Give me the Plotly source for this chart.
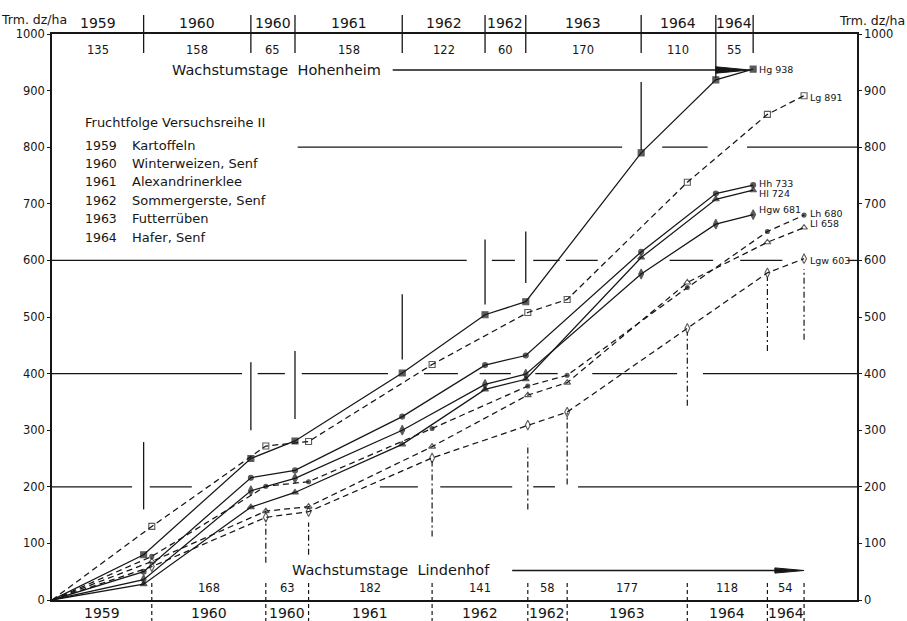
import numpy as np
import plotly.graph_objects as go

# ---------------------------------------------------------------------------
# Growing seasons (Wachstumstage) per crop, Hohenheim and Lindenhof
season_years = ["1959", "1960", "1960", "1961", "1962", "1962", "1963", "1964", "1964"]
days_hohenheim = [135, 158, 65, 158, 122, 60, 170, 110, 55]
days_lindenhof = [147, 168, 63, 182, 141, 58, 177, 118, 54]
lindenhof_days_printed = [False, True, True, True, True, True, True, True, True]

# Crop rotation (Fruchtfolge Versuchsreihe II)
rotation_years = ["1959", "1960", "1961", "1962", "1963", "1964"]
rotation_crops = ["Kartoffeln", "Winterweizen, Senf", "Alexandrinerklee",
                  "Sommergerste, Senf", "Futterrüben", "Hafer, Senf"]

# Cumulative dry matter yield (Trm. dz/ha) at the end of each season
hg = [0, 80, 250, 281, 401, 504, 527, 790, 919, 938]
hh = [0, 50, 216, 229, 324, 415, 432, 615, 718, 733]
hl = [0, 28, 164, 190, 275, 372, 390, 605, 708, 724]
hgw = [0, 36, 193, 215, 300, 381, 399, 576, 664, 681]
lg = [0, 130, 272, 280, 416, 508, 531, 738, 858, 891]
lh = [0, 77, 201, 209, 303, 378, 397, 552, 651, 680]
ll = [0, 68, 157, 165, 271, 362, 384, 561, 632, 658]
lgw = [0, 59, 146, 156, 251, 309, 332, 480, 578, 603]

# y axis ticks
y_ticks = [0, 100, 200, 300, 400, 500, 600, 700, 800, 900, 1000]

# ---------------------------------------------------------------------------
INK = "#161616"
FONT = "DejaVu Sans"
X_MAX = 1186          # days shown on the time axis
PLOT_PX = 566         # plot height in pixels (for paper offsets)
PLOT_W = 805          # plot width in pixels

cum_h = np.concatenate([[0], np.cumsum(days_hohenheim)])
cum_l = np.concatenate([[0], np.cumsum(days_lindenhof)])


def above_top(px):
    """paper y for a position px pixels above the top of the plot area"""
    return 1 + px / PLOT_PX


def below_bottom(px):
    """paper y for a position px pixels below the bottom of the plot area"""
    return -px / PLOT_PX


def label(x, y, text, size, xref="x", yref="paper", xanchor="center", **kw):
    return dict(x=x, y=y, xref=xref, yref=yref, text=text, showarrow=False,
                xanchor=xanchor, yanchor="middle",
                font=dict(size=size, family=FONT, color=INK), **kw)


fig = go.Figure()

series = [
    # name, x, y, symbol, size, dash, label yshift
    ("Hg", cum_h, hg, "square", 6, "solid", 0),
    ("Hh", cum_h, hh, "circle", 5, "solid", 2),
    ("Hl", cum_h, hl, "triangle-up", 6, "solid", -3),
    ("Hgw", cum_h, hgw, "diamond-tall", 7, "solid", 5),
    ("Lg", cum_l, lg, "square-open", 6, "6px,4px", -2),
    ("Lh", cum_l, lh, "circle", 4, "6px,4px", 2),
    ("Ll", cum_l, ll, "triangle-up-open", 6, "6px,4px", 4),
    ("Lgw", cum_l, lgw, "diamond-tall-open", 7, "6px,4px", -2),
]

annotations = []
for name, xs, ys, sym, size, dash, yshift in series:
    sizes = [0] + [size] * (len(ys) - 1)
    fig.add_trace(go.Scatter(
        x=xs, y=ys, mode="lines+markers", name=name,
        line=dict(color=INK, width=1.25, dash=dash),
        marker=dict(symbol=sym, size=sizes, color=INK,
                    line=dict(color=INK, width=1.1)),
        showlegend=False, hoverinfo="skip", cliponaxis=False,
    ))
    annotations.append(label(xs[-1], ys[-1], f"{name} {ys[-1]}", 9.5, yref="y",
                             xanchor="left", xshift=4, yshift=yshift))

# dummy trace so the right-hand axis is drawn
fig.add_trace(go.Scatter(x=[None], y=[None], yaxis="y2", showlegend=False,
                         hoverinfo="skip"))

shapes = []
line_style = dict(color=INK, width=1.3)

# interrupted horizontal reference lines (start/end in days)
grid_segments = {
    200: [(0, 118), (144, 206), (483, 539), (572, 678), (709, 741), (775, X_MAX)],
    400: [(0, 280), (303, 343), (368, 495), (548, 598), (630, 676),
          (712, 745), (796, 921), (959, X_MAX)],
    600: [(0, 611), (648, 682), (709, 748), (757, 804), (910, 974),
          (1014, 1076), (1173, X_MAX)],
    800: [(362, 840), (899, 966), (1024, X_MAX)],
}
for level, segs in grid_segments.items():
    for a, b in segs:
        shapes.append(dict(type="line", xref="x", yref="y", x0=a, x1=b,
                           y0=level, y1=level, line=line_style, layer="below"))

# season boundaries across the curves: solid = Hohenheim, dash-dot = Lindenhof
h_vspan = [(160, 279), (300, 420), (320, 440), (425, 540), (522, 637),
           (560, 651), (795, 915), None, None]
l_vspan = [None, (66, 142), (80, 137), (112, 245), (160, 275), (204, 331),
           (343, 473), (440, 570), (460, 585)]
for b, span in zip(cum_h[1:], h_vspan):
    if span:
        shapes.append(dict(type="line", xref="x", yref="y", x0=b, x1=b,
                           y0=span[0], y1=span[1], line=line_style))
for b, span in zip(cum_l[1:], l_vspan):
    if span:
        shapes.append(dict(type="line", xref="x", yref="y", x0=b, x1=b,
                           y0=span[0], y1=span[1],
                           line=dict(color=INK, width=1.2, dash="6px,3px,2px,3px")))

# header ticks (Hohenheim, top) and footer ticks (Lindenhof, bottom)
for i, b in enumerate(cum_h[1:]):
    low = above_top(-44) if i == 7 else above_top(-19)
    shapes.append(dict(type="line", xref="x", yref="paper", x0=b, x1=b,
                       y0=above_top(19), y1=low, line=line_style))
for b in cum_l[1:]:
    shapes.append(dict(type="line", xref="x", yref="paper", x0=b, x1=b,
                       y0=below_bottom(-17), y1=below_bottom(21),
                       line=dict(color=INK, width=1.2, dash="4px,3px")))

# "Wachstumstage" arrows
arrow_h_y = above_top(-36)
arrow_l_y = below_bottom(-29.5)
shapes.append(dict(type="line", xref="x", yref="paper", x0=502, x1=cum_h[-2],
                   y0=arrow_h_y, y1=arrow_h_y, line=line_style))
shapes.append(dict(type="path", xref="x", yref="paper",
                   path=(f"M {cum_h[-2]},{arrow_h_y + 3.2 / PLOT_PX} "
                         f"L {cum_h[-1] - 5},{arrow_h_y} "
                         f"L {cum_h[-2]},{arrow_h_y - 3.2 / PLOT_PX} Z"),
                   fillcolor=INK, line=dict(color=INK, width=1)))
shapes.append(dict(type="line", xref="x", yref="paper", x0=678, x1=1065,
                   y0=arrow_l_y, y1=arrow_l_y, line=line_style))
shapes.append(dict(type="path", xref="x", yref="paper",
                   path=(f"M 1065,{arrow_l_y + 2.6 / PLOT_PX} "
                         f"L {cum_l[-1]},{arrow_l_y} "
                         f"L 1065,{arrow_l_y - 2.6 / PLOT_PX} Z"),
                   fillcolor=INK, line=dict(color=INK, width=1)))

# header: Hohenheim years and days
for i, (yr, d) in enumerate(zip(season_years, days_hohenheim)):
    mid = (cum_h[i] + cum_h[i + 1]) / 2
    annotations.append(label(mid, above_top(11), yr, 14))
    annotations.append(label(mid, above_top(-16), str(d), 11.5))

# footer: Lindenhof years and days
for i, (yr, d, shown) in enumerate(zip(season_years, days_lindenhof,
                                       lindenhof_days_printed)):
    mid = (cum_l[i] + cum_l[i + 1]) / 2
    annotations.append(label(mid, below_bottom(13), yr, 14))
    if shown:
        annotations.append(label(mid, below_bottom(-12.5), str(d), 11.5))

annotations.append(label(331, arrow_h_y, "Wachstumstage  Hohenheim", 14.5))
annotations.append(label(499, below_bottom(-30), "Wachstumstage  Lindenhof", 14.5))

# crop rotation key
annotations.append(label(31 / PLOT_W, above_top(-88), "Fruchtfolge Versuchsreihe II",
                         13, xref="paper", xanchor="left"))
for i, (yr, crop) in enumerate(zip(rotation_years, rotation_crops)):
    yy = above_top(-(111 + 18.4 * i))
    annotations.append(label(31 / PLOT_W, yy, yr, 12.5, xref="paper", xanchor="left"))
    annotations.append(label(78 / PLOT_W, yy, crop, 13, xref="paper", xanchor="left"))

# axis units
annotations.append(label(17 / PLOT_W, above_top(15), "Trm. dz/ha", 12.5,
                         xref="paper", xanchor="right"))
annotations.append(label(785 / PLOT_W, above_top(14), "Trm. dz/ha", 12.5,
                         xref="paper", xanchor="left"))

axis_common = dict(range=[0, 1000], tickvals=y_ticks, ticks="outside", ticklen=3,
                   tickcolor=INK, showline=True, linecolor=INK, linewidth=1.5,
                   showgrid=False, zeroline=False,
                   tickfont=dict(size=11.5, family=FONT, color=INK))

fig.update_layout(
    width=907, height=621,
    margin=dict(l=52, r=50, t=34, b=21),
    paper_bgcolor="white", plot_bgcolor="white",
    font=dict(family=FONT, color=INK),
    xaxis=dict(range=[0, X_MAX], showline=True, mirror=True, linecolor=INK,
               linewidth=1.5, showticklabels=False, ticks="", showgrid=False,
               zeroline=False),
    yaxis=dict(side="left", **axis_common),
    yaxis2=dict(side="right", overlaying="y", anchor="x", **axis_common),
    shapes=shapes,
    annotations=annotations,
)

fig.write_html("out.html")
